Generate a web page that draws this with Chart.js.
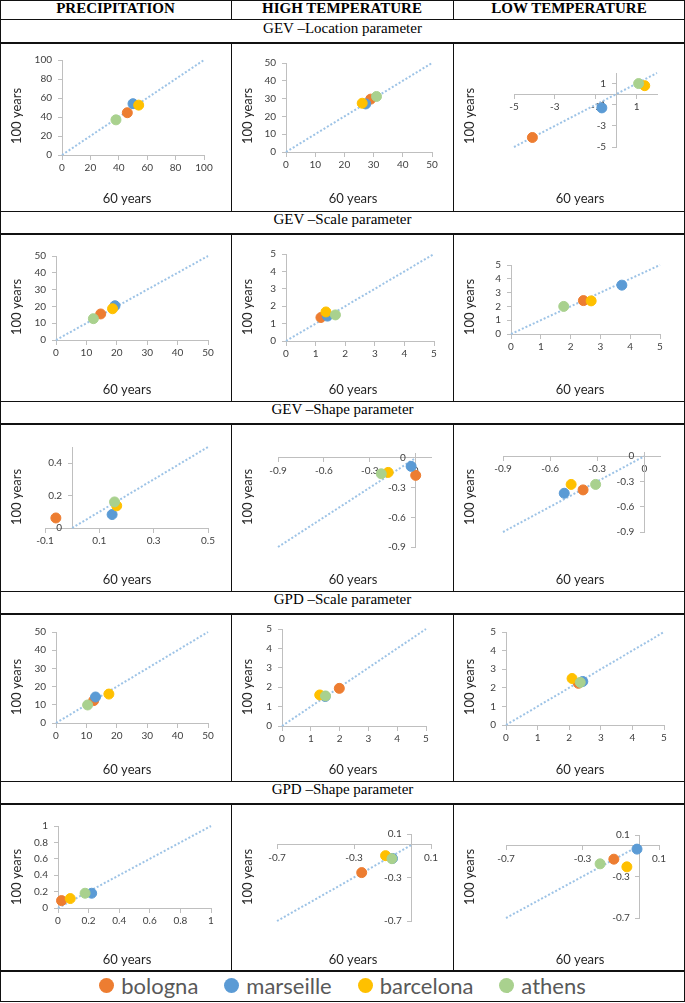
<!DOCTYPE html>
<html>
<head>
<meta charset="utf-8">
<script src="https://cdn.jsdelivr.net/npm/chart.js@4"></script>
<style>
    body { margin: 0; background: #fff; }
    #sheet { position: relative; width: 685px; height: 1003px; overflow: hidden; }
    .line { position: absolute; background: #111; }
    .hdr { position: absolute; top: 0; height: 19px; line-height: 20px; text-align: center;
           font: bold 15px "Liberation Serif", serif; color: #000; }
    .sec { position: absolute; left: 0; width: 685px; height: 22px; line-height: 22px; text-align: center;
           font: 15px "Liberation Serif", serif; color: #000; }
    canvas { position: absolute; }
    #legend { position: absolute; left: 0; top: 971px; width: 685px; height: 29px;
              display: flex; justify-content: center; align-items: center; gap: 26px;
              font: 22px Lato, sans-serif; color: #595959; }
    #legend span.item { display: flex; align-items: center; gap: 7px; }
    #legend span.dot { width: 15px; height: 15px; border-radius: 50%; display: inline-block; }
</style>
</head>
<body>
<div id="sheet"></div>

<script>
// ===============================
// Data
// ===============================
const CITIES = ['bologna', 'marseille', 'barcelona', 'athens'];
const CITY_COLORS = ['#ED7D31', '#5B9BD5', '#FFC000', '#A9D18E'];
const COLUMNS = ['PRECIPITATION', 'HIGH TEMPERATURE', 'LOW TEMPERATURE'];
const SECTIONS = ['GEV \u2013Location parameter', 'GEV \u2013Scale parameter', 'GEV \u2013Shape parameter',
                  'GPD \u2013Scale parameter', 'GPD \u2013Shape parameter'];
const X_TITLE = '60 years';
const Y_TITLE = '100 years';

// values per city (bologna, marseille, barcelona, athens): 60 years on x, 100 years on y
const gevLocPrec60 = [46, 50, 54, 38];
const gevLocPrec100 = [44.5, 54, 52.5, 37];
const gevLocHigh60 = [29, 27.3, 26.1, 31];
const gevLocHigh100 = [29.7, 27, 27.4, 31.2];
const gevLocLow60 = [-4.1, -0.7, 1.4, 1.1];
const gevLocLow100 = [-4.1, -1.3, 0.8, 1.0];

const gevScalePrec60 = [14.7, 19.4, 18.6, 12.3];
const gevScalePrec100 = [15.5, 20.4, 18.6, 12.7];
const gevScaleHigh60 = [1.18, 1.4, 1.35, 1.67];
const gevScaleHigh100 = [1.35, 1.43, 1.67, 1.5];
const gevScaleLow60 = [2.43, 3.72, 2.69, 1.77];
const gevScaleLow100 = [2.42, 3.54, 2.4, 2.0];

const gevShapePrec60 = [-0.06, 0.147, 0.164, 0.156];
const gevShapePrec100 = [0.062, 0.083, 0.137, 0.161];
const gevShapeHigh60 = [0.0, -0.03, -0.18, -0.225];
const gevShapeHigh100 = [-0.176, -0.085, -0.146, -0.16];
const gevShapeLow60 = [-0.39, -0.51, -0.466, -0.31];
const gevShapeLow100 = [-0.4, -0.44, -0.335, -0.335];

const gpdScalePrec60 = [12.4, 13.0, 17.4, 10.4];
const gpdScalePrec100 = [12.3, 14.3, 15.9, 9.9];
const gpdScaleHigh60 = [1.99, 1.5, 1.31, 1.51];
const gpdScaleHigh100 = [1.94, 1.52, 1.6, 1.55];
const gpdScaleLow60 = [2.29, 2.43, 2.09, 2.35];
const gpdScaleLow100 = [2.24, 2.34, 2.5, 2.29];

const gpdShapePrec60 = [0.023, 0.22, 0.08, 0.177];
const gpdShapePrec100 = [0.09, 0.18, 0.115, 0.18];
const gpdShapeHigh60 = [-0.26, -0.1, -0.136, -0.103];
const gpdShapeHigh100 = [-0.255, -0.125, -0.099, -0.127];
const gpdShapeLow60 = [-0.136, -0.015, -0.068, -0.208];
const gpdShapeLow100 = [-0.133, -0.036, -0.207, -0.178];

// tick labels
const TICKS_0_100 = [0, 20, 40, 60, 80, 100];
const TICKS_0_50 = [0, 10, 20, 30, 40, 50];
const TICKS_0_5 = [0, 1, 2, 3, 4, 5];
const TICKS_0_1 = [0, 0.2, 0.4, 0.6, 0.8, 1];
const TICKS_LOC_LOW = [-5, -3, -1, 1];
const TICKS_SHAPE_X = [-0.1, 0.1, 0.3, 0.5];
const TICKS_SHAPE_Y = [0, 0.2, 0.4];
const TICKS_GEV_SHAPE = [-0.9, -0.6, -0.3, 0];
const TICKS_GPD_SHAPE = [-0.7, -0.3, 0.1];

// chart list, row by row (x range, y range, 1:1 line from lo to hi)
const CHARTS = [
    { x: gevLocPrec60, y: gevLocPrec100, xt: TICKS_0_100, yt: TICKS_0_100, xr: [0, 100], yr: [0, 100], diag: [0, 100] },
    { x: gevLocHigh60, y: gevLocHigh100, xt: TICKS_0_50, yt: TICKS_0_50, xr: [0, 50], yr: [0, 50], diag: [0, 50] },
    { x: gevLocLow60, y: gevLocLow100, xt: TICKS_LOC_LOW, yt: TICKS_LOC_LOW, xr: [-5, 2], yr: [-5, 2], diag: [-5, 2] },

    { x: gevScalePrec60, y: gevScalePrec100, xt: TICKS_0_50, yt: TICKS_0_50, xr: [0, 50], yr: [0, 50], diag: [0, 50] },
    { x: gevScaleHigh60, y: gevScaleHigh100, xt: TICKS_0_5, yt: TICKS_0_5, xr: [0, 5], yr: [0, 5], diag: [0, 5] },
    { x: gevScaleLow60, y: gevScaleLow100, xt: TICKS_0_5, yt: TICKS_0_5, xr: [0, 5], yr: [0, 5], diag: [0, 5] },

    { x: gevShapePrec60, y: gevShapePrec100, xt: TICKS_SHAPE_X, yt: TICKS_SHAPE_Y, xr: [-0.1, 0.5], yr: [0, 0.5], diag: [0, 0.5] },
    { x: gevShapeHigh60, y: gevShapeHigh100, xt: TICKS_GEV_SHAPE, yt: TICKS_GEV_SHAPE, xr: [-0.9, 0.1], yr: [-0.9, 0.05], diag: [-0.9, 0] },
    { x: gevShapeLow60, y: gevShapeLow100, xt: TICKS_GEV_SHAPE, yt: TICKS_GEV_SHAPE, xr: [-0.9, 0.1], yr: [-0.9, 0.05], diag: [-0.9, 0] },

    { x: gpdScalePrec60, y: gpdScalePrec100, xt: TICKS_0_50, yt: TICKS_0_50, xr: [0, 50], yr: [0, 50], diag: [0, 50] },
    { x: gpdScaleHigh60, y: gpdScaleHigh100, xt: TICKS_0_5, yt: TICKS_0_5, xr: [0, 5], yr: [0, 5], diag: [0, 5] },
    { x: gpdScaleLow60, y: gpdScaleLow100, xt: TICKS_0_5, yt: TICKS_0_5, xr: [0, 5], yr: [0, 5], diag: [0, 5] },

    { x: gpdShapePrec60, y: gpdShapePrec100, xt: TICKS_0_1, yt: TICKS_0_1, xr: [0, 1], yr: [0, 1], diag: [0, 1] },
    { x: gpdShapeHigh60, y: gpdShapeHigh100, xt: TICKS_GPD_SHAPE, yt: TICKS_GPD_SHAPE, xr: [-0.7, 0.1], yr: [-0.7, 0.1], diag: [-0.7, 0] },
    { x: gpdShapeLow60, y: gpdShapeLow100, xt: TICKS_GPD_SHAPE, yt: TICKS_GPD_SHAPE, xr: [-0.7, 0.1], yr: [-0.7, 0.1], diag: [-0.7, 0] }
];

// ===============================
// Layout (page pixels)
// ===============================
const COL_LEFT = [1, 232, 454];
const COL_WIDTH = [230, 221, 230];
const ROW_TOP = [44, 235, 425, 615, 805];
const ROW_HEIGHT = [167, 166, 166, 166, 165];
const SECTION_TOP = [20, 211, 401, 591, 781];
const Y_TITLE_X = [16, 15.5, 16];
const X_TITLE_X = [126, 121, 126];
const Y_TITLE_Y = 72;
const X_TITLE_Y = 155;

// plot area of each chart: left, top, right, bottom
const PLOT_AREAS = [
    [62, 60, 204, 155], [286, 63, 432, 152], [514, 73, 657, 147],
    [56, 256, 208, 340], [286, 254, 434, 341], [511, 265, 660, 334],
    [45, 447, 208, 528], [278, 453, 431, 547], [503, 452, 660, 532],
    [56, 632, 208, 723], [282, 629, 426, 726], [506, 632, 664, 725],
    [58, 826, 211, 908], [277, 834, 431, 921], [506, 835, 659, 918]
];

const H_LINES = [[0, 1], [19, 1], [42, 2], [211, 1], [233, 2], [401, 1], [423, 2],
                 [591, 1], [613, 2], [781, 1], [803, 2], [970, 2], [1001, 1]];
const V_INNER = [231, 453];
const V_SPANS = [[0, 19], [42, 211], [233, 401], [423, 591], [613, 781], [803, 970]];
const COL_SPANS = [[0, 231], [231, 453], [453, 685]];

// ===============================
// Table frame
// ===============================
const sheet = document.getElementById('sheet');

function addDiv(cls, css, text) {
    const d = document.createElement('div');
    d.className = cls;
    Object.assign(d.style, css);
    if (text) d.textContent = text;
    sheet.appendChild(d);
    return d;
}

H_LINES.forEach(([y, w]) => addDiv('line', { left: '0px', top: y + 'px', width: '685px', height: w + 'px' }));
[0, 684].forEach(x => addDiv('line', { left: x + 'px', top: '0px', width: '1px', height: '1002px' }));
V_INNER.forEach(x => {
    V_SPANS.forEach(([a, b]) => addDiv('line', { left: x + 'px', top: a + 'px', width: '1px', height: (b - a) + 'px' }));
});

COLUMNS.forEach((c, i) => addDiv('hdr', { left: COL_SPANS[i][0] + 'px', width: (COL_SPANS[i][1] - COL_SPANS[i][0]) + 'px' }, c));
SECTIONS.forEach((s, i) => addDiv('sec', { top: SECTION_TOP[i] + 'px' }, s));

// legend
const legend = addDiv('', {});
legend.id = 'legend';
CITIES.forEach((c, i) => {
    const item = document.createElement('span');
    item.className = 'item';
    item.innerHTML = '<span class="dot" style="background:' + CITY_COLORS[i] + '"></span>' + c;
    legend.appendChild(item);
});

// ===============================
// Charts
// ===============================
Chart.defaults.font.family = 'Lato';

const axisTitles = {
    id: 'axisTitles',
    afterDraw(chart, args, opts) {
        const ctx = chart.ctx;
        ctx.save();
        ctx.fillStyle = '#262626';
        ctx.font = '13px Lato';
        ctx.textAlign = 'center';
        ctx.textBaseline = 'middle';
        ctx.fillText(X_TITLE, opts.xPos[0], opts.xPos[1]);
        ctx.translate(opts.yPos[0], opts.yPos[1]);
        ctx.rotate(-Math.PI / 2);
        ctx.fillText(Y_TITLE, 0, 0);
        ctx.restore();
    }
};
Chart.register(axisTitles);

function axisOptions(range, ticks, isX) {
    return {
        type: 'linear',
        min: range[0],
        max: range[1],
        position: isX ? { y: 0 } : { x: 0 },
        afterFit: s => { if (isX) s.height = 0; else s.width = 0; },
        afterBuildTicks: s => { s.ticks = ticks.map(v => ({ value: v })); },
        grid: { display: true, drawOnChartArea: false, drawTicks: true, tickLength: 4, color: '#BFBFBF' },
        border: { display: true, color: '#BFBFBF', width: 1 },
        ticks: {
            color: '#404040',
            font: { size: 10 },
            padding: 3,
            maxRotation: 0,
            minRotation: 0,
            autoSkip: false,
            // centred y axes put the label right on the axis line, so keep a gap after it
            callback: v => isX ? String(v) : String(v) + '\u2002\u2002'
        }
    };
}

CHARTS.forEach((spec, k) => {
    const row = Math.floor(k / 3);
    const col = k % 3;
    const canvas = document.createElement('canvas');
    const w = COL_WIDTH[col];
    const h = ROW_HEIGHT[row];
    canvas.width = w;
    canvas.height = h;
    canvas.style.left = COL_LEFT[col] + 'px';
    canvas.style.top = ROW_TOP[row] + 'px';
    canvas.style.width = w + 'px';
    canvas.style.height = h + 'px';
    sheet.appendChild(canvas);

    const area = PLOT_AREAS[k];
    const padding = {
        left: area[0] - COL_LEFT[col],
        top: area[1] - ROW_TOP[row],
        right: COL_LEFT[col] + w - area[2],
        bottom: ROW_TOP[row] + h - area[3]
    };

    const datasets = [{
        type: 'line',
        label: '1:1',
        data: [{ x: spec.diag[0], y: spec.diag[0] }, { x: spec.diag[1], y: spec.diag[1] }],
        borderColor: '#9DC3E6',
        borderWidth: 2,
        borderDash: [2, 2],
        pointRadius: 0,
        clip: false,
        order: 10
    }];

    CITIES.forEach((c, i) => {
        datasets.push({
            label: c,
            data: [{ x: spec.x[i], y: spec.y[i] }],
            backgroundColor: CITY_COLORS[i],
            borderColor: CITY_COLORS[i],
            borderWidth: 1,
            pointRadius: 5,
            pointHoverRadius: 5,
            clip: false,
            order: 4 - i
        });
    });

    new Chart(canvas.getContext('2d'), {
        type: 'scatter',
        data: { datasets: datasets },
        options: {
            responsive: false,
            animation: false,
            devicePixelRatio: 1,
            events: [],
            layout: { padding: padding, autoPadding: false },
            plugins: {
                legend: { display: false },
                tooltip: { enabled: false },
                axisTitles: {
                    xPos: [X_TITLE_X[col], X_TITLE_Y],
                    yPos: [Y_TITLE_X[col], Y_TITLE_Y]
                }
            },
            scales: {
                x: axisOptions(spec.xr, spec.xt, true),
                y: axisOptions(spec.yr, spec.yt, false)
            }
        }
    });
});
</script>
</body>
</html>
